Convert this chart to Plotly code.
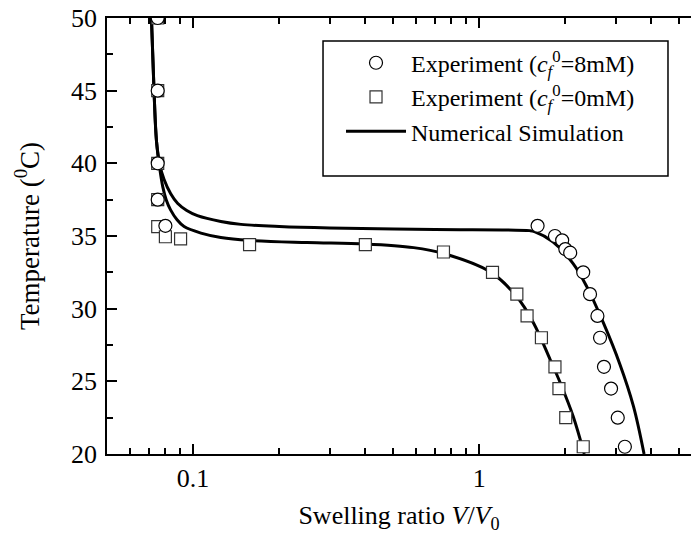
import plotly.graph_objects as go
import math

# Experimental data, c_f^0 = 8 mM (circles)
circ_x = [0.0752, 0.0752, 0.0752, 0.0752, 0.080, 1.60, 1.84, 1.95, 2.00, 2.08, 2.31, 2.44, 2.59, 2.645, 2.73, 2.89, 3.05, 3.23]
circ_y = [50.0, 45.0, 40.0, 37.5, 35.7, 35.7, 35.0, 34.7, 34.1, 33.85, 32.5, 31.0, 29.5, 28.0, 26.0, 24.5, 22.5, 20.5]

# Experimental data, c_f^0 = 0 mM (squares)
sq_x = [0.0752, 0.0752, 0.0752, 0.0752, 0.0752, 0.080, 0.0904, 0.1575, 0.400, 0.750, 1.113, 1.354, 1.47, 1.65, 1.84, 1.90, 2.007, 2.31]
sq_y = [50.0, 45.0, 40.0, 37.5, 35.65, 34.95, 34.8, 34.4, 34.4, 33.9, 32.5, 31.0, 29.5, 28.0, 26.0, 24.5, 22.5, 20.5]

# Numerical simulation, 8 mM
simA_x = [0.0715, 0.073, 0.0745, 0.0765, 0.0791, 0.0835, 0.0882, 0.0950, 0.1035, 0.125, 0.147, 0.20, 0.30, 0.70, 1.50, 1.56, 1.81, 2.13, 2.38, 2.72, 3.10, 3.46, 3.77]
simA_y = [50.0, 45.0, 41.5, 39.9, 38.9, 37.9, 37.25, 36.75, 36.4, 36.0, 35.8, 35.65, 35.55, 35.45, 35.37, 35.3, 34.6, 33.1, 31.5, 29.0, 26.2, 23.3, 20.0]

# Numerical simulation, 0 mM
simB_x = [0.0715, 0.073, 0.0745, 0.0765, 0.0783, 0.0805, 0.0834, 0.088, 0.093, 0.1065, 0.125, 0.157, 0.25, 0.40, 0.59, 0.75, 1.09, 1.35, 1.55, 1.77, 1.92, 2.13, 2.33]
simB_y = [50.0, 45.0, 41.5, 39.6, 38.4, 37.5, 36.8, 36.1, 35.65, 35.2, 34.9, 34.7, 34.55, 34.45, 34.2, 33.8, 32.55, 30.85, 29.0, 26.5, 24.9, 22.6, 20.0]

x_major = [0.1, 1]
x_minor = [0.06, 0.07, 0.08, 0.09, 0.2, 0.3, 0.4, 0.5, 0.6, 0.7, 0.8, 0.9, 2, 3, 4, 5]
y_major = [20, 25, 30, 35, 40, 45, 50]
y_minor = [22.5, 27.5, 32.5, 37.5, 42.5, 47.5]

FONT = "Liberation Serif, Times New Roman, serif"

fig = go.Figure()

fig.add_trace(go.Scatter(
    x=simA_x + [None] + simB_x, y=simA_y + [None] + simB_y,
    mode="lines", line=dict(color="black", width=3, shape="spline", smoothing=1.0),
    name="Numerical Simulation", legendrank=3, connectgaps=False))

fig.add_trace(go.Scatter(
    x=sq_x, y=sq_y, mode="markers",
    marker=dict(symbol="square", size=12, color="white", line=dict(color="#333333", width=1.2)),
    name="Experiment (<i>c</i><sub><i>f</i></sub><sup>0</sup>=0mM)", legendrank=2))

fig.add_trace(go.Scatter(
    x=circ_x, y=circ_y, mode="markers",
    marker=dict(symbol="circle", size=13, color="white", line=dict(color="black", width=1.2)),
    name="Experiment (<i>c</i><sub><i>f</i></sub><sup>0</sup>=8mM)", legendrank=1))

fig.update_layout(
    width=691, height=541,
    margin=dict(l=107, r=0, t=18, b=87),
    paper_bgcolor="white", plot_bgcolor="white",
    font=dict(family=FONT, size=23, color="black"),
    legend=dict(x=0.4007, y=0.948, xanchor="left", yanchor="top",
                borderwidth=0, bgcolor="rgba(0,0,0,0)",
                font=dict(family=FONT, size=24), itemwidth=60,
                tracegroupgap=0),
    shapes=[dict(type="rect", xref="paper", yref="paper",
                 x0=0.3699, x1=0.9606, y0=0.6376, y1=0.9472,
                 line=dict(color="black", width=1.5), fillcolor="rgba(0,0,0,0)", layer="above")],
    xaxis=dict(type="log", range=[math.log10(0.05), math.log10(5.5)],
               tickvals=x_major, ticktext=["0.1", "1"], tickfont=dict(size=26),
               ticks="inside", ticklen=10, tickwidth=1.5, tickcolor="black",
               minor=dict(tickvals=x_minor, ticks="inside", ticklen=6, tickwidth=1.5, tickcolor="black"),
               showline=True, linecolor="black", linewidth=1.5, mirror="ticks",
               showgrid=False, zeroline=False,
               title=dict(text="Swelling ratio <i>V</i>/<i>V</i><sub>0</sub>", standoff=14,
                          font=dict(size=26))),
    yaxis=dict(range=[20, 50], tickvals=y_major, tickfont=dict(size=26),
               ticklabelstandoff=3,
               ticks="inside", ticklen=10, tickwidth=1.5, tickcolor="black",
               minor=dict(tickvals=y_minor, ticks="inside", ticklen=6, tickwidth=1.5, tickcolor="black"),
               showline=True, linecolor="black", linewidth=1.5,
               showgrid=False, zeroline=False,
               title=dict(text="Temperature (<sup>0</sup>C)", standoff=24,
                          font=dict(size=27))),
)

fig.write_html("out.html")
